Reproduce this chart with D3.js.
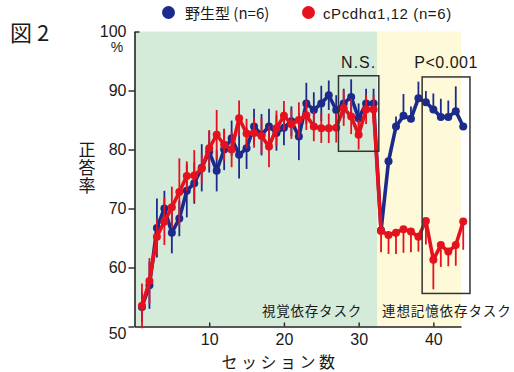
<!DOCTYPE html>
<html>
<head>
<meta charset="utf-8">
<script src="https://cdn.jsdelivr.net/npm/d3@7"></script>
<style>
  body { margin: 0; background: #fff; }
  text { font-family: "Liberation Sans", Arial, sans-serif; fill: #1a1a1a; }
  .jp { font-family: "Noto Sans CJK JP", sans-serif; }
</style>
</head>
<body>
<div id="chart"></div>
<script>
// Data
var sessions = [1,2,3,4,5,6,7,8,9,10,11,12,13,14,15,16,17,18,19,20,21,22,
                23,24,25,26,27,28,29,30,31,32,33,34,35,36,37,38,39,40,41,42,43,44];

var wildType = [53.3,57.0,66.7,70.0,65.9,68.3,73.0,74.3,76.9,79.6,
                76.4,80.0,81.9,79.1,80.2,83.9,82.5,83.9,82.8,83.7,
                84.8,82.2,87.8,86.7,87.8,89.2,86.7,87.8,88.9,85.3,87.8,87.8,
                66.3,78.0,83.9,85.7,85.2,88.7,88.0,86.8,85.5,85.5,86.5,83.9];
var wildTypeSem = [2.5,4,5,3,3.5,3,4.5,3.5,4,3.5,
                   3.5,3.5,3,4,3.5,3,3.5,3,3,3,
                   2.5,4,3.5,3,3,2.5,2.5,2.5,3,2.5,2.5,2.5,
                   0,0,1.7,3.7,2.1,2.8,1.9,2.7,3.1,2.8,4.2,0];

var mutant = [53.5,57.7,65.2,67.8,70.2,72.8,75.5,75.6,76.8,80.2,
              82.5,80.8,80.0,85.3,82.7,82.8,82.3,80.5,83.6,85.7,
              84.3,85.0,85.8,83.9,83.6,83.6,83.7,87.0,85.6,82.5,86.8,86.8,
              66.2,65.5,65.9,66.5,66.1,65.2,67.9,61.3,63.8,62.7,63.8,67.8];
var mutantSem = [3.8,3.9,3,4,3.5,5.7,2.5,4.3,2.5,3.1,
                 4.2,2.7,3,3,2.5,2.5,3,3.5,3,2.5,
                 2.5,3,2.5,2.5,2.5,2.5,2.5,3,3,2.5,2.5,2.5,
                 3.6,3.2,3.6,4,3.5,2.5,4,5,3.7,2.5,3.5,4.8];

var xTicks = [10, 20, 30, 40];
var yTicks = [50, 60, 70, 80, 90, 100];
var phaseSplit = 32.5;   // visual task -> associative task
var xEnd = 43.7;
var nsBox = [27.3, 32.7, 79.7, 92.5];      // x0, x1, y0, y1
var pBox = [38.5, 44.9, 55.6, 92.3];

var blue = "#1c2a8c", red = "#e5111e";

var svg = d3.select("#chart").append("svg")
    .attr("width", 514)
    .attr("height", 372);

var x = d3.scaleLinear().domain([0, xEnd]).range([134.5, 461]);
var y = d3.scaleLinear().domain([50, 100]).range([326.5, 31.5]);

// Background for the two task phases
svg.append("rect")
    .attr("x", x(0) + 1).attr("y", y(100))
    .attr("width", x(phaseSplit) - x(0) - 1).attr("height", y(50) - y(100))
    .attr("fill", "#d5ebd9");
svg.append("rect")
    .attr("x", x(phaseSplit)).attr("y", y(100))
    .attr("width", x(xEnd) - x(phaseSplit)).attr("height", y(50) - y(100))
    .attr("fill", "#fdf9d9");

// Axes
var yAxis = svg.append("g")
    .attr("transform", "translate(" + x(0) + ",0)")
    .call(d3.axisLeft(y).tickValues(yTicks).tickSize(6).tickSizeOuter(0).tickPadding(2));
var xAxis = svg.append("g")
    .attr("transform", "translate(0," + y(50) + ")")
    .call(d3.axisBottom(x).tickValues(xTicks).tickSize(-4).tickSizeOuter(0).tickPadding(7));

[yAxis, xAxis].forEach(function (g) {
    g.select(".domain").attr("stroke", "#222").attr("stroke-width", 1.6);
    g.selectAll(".tick line").attr("stroke", "#222").attr("stroke-width", 1.4);
    g.selectAll(".tick text").style("font-size", "16px").attr("fill", "#1a1a1a")
        .style("font-family", "'Liberation Sans', Arial, sans-serif");
});
// 100 tick points inward, 50 label sits under the corner
yAxis.selectAll(".tick").filter(function (d) { return d === 100; })
    .select("line").attr("x2", 5);
yAxis.selectAll(".tick").filter(function (d) { return d === 50; })
    .select("text").attr("dy", "0.75em");
xAxis.selectAll(".tick text").attr("dy", "0.71em");

svg.append("text")
    .attr("x", 117).attr("y", 52)
    .attr("text-anchor", "middle")
    .style("font-size", "14px")
    .text("%");

// Error bars (one-sided in the associative task)
function drawErrors(vals, sem, color, dir) {
    svg.append("g").selectAll("line")
        .data(sessions)
        .enter().append("line")
        .attr("x1", function (d) { return x(d); })
        .attr("x2", function (d) { return x(d); })
        .attr("y1", function (d, i) {
            var up = (i >= 32 && dir < 0) ? 0 : sem[i];
            return y(vals[i] + up);
        })
        .attr("y2", function (d, i) {
            var dn = (i >= 32 && dir > 0) ? 0 : sem[i];
            return y(vals[i] - dn);
        })
        .attr("stroke", color)
        .attr("stroke-width", 1.8);
}

function drawSeries(vals, color) {
    var line = d3.line()
        .x(function (d) { return x(d); })
        .y(function (d, i) { return y(vals[i]); });
    svg.append("path")
        .datum(sessions)
        .attr("d", line)
        .attr("fill", "none")
        .attr("stroke", color)
        .attr("stroke-width", 3.6)
        .attr("stroke-linejoin", "round");
    svg.append("g").selectAll("circle")
        .data(sessions)
        .enter().append("circle")
        .attr("cx", function (d) { return x(d); })
        .attr("cy", function (d, i) { return y(vals[i]); })
        .attr("r", 4)
        .attr("fill", color);
}

drawErrors(wildType, wildTypeSem, blue, 1);
drawSeries(wildType, blue);
drawErrors(mutant, mutantSem, red, -1);
drawSeries(mutant, red);

// Comparison boxes
[nsBox, pBox].forEach(function (b) {
    svg.append("rect")
        .attr("x", x(b[0])).attr("y", y(b[3]))
        .attr("width", x(b[1]) - x(b[0])).attr("height", y(b[2]) - y(b[3]))
        .attr("fill", "none")
        .attr("stroke", "#333")
        .attr("stroke-width", 1.5);
});
svg.append("text")
    .attr("x", x((nsBox[0] + nsBox[1]) / 2)).attr("y", 68)
    .attr("text-anchor", "middle")
    .style("font-size", "16px").style("letter-spacing", "1px")
    .text("N.S.");
svg.append("text")
    .attr("x", x((pBox[0] + pBox[1]) / 2)).attr("y", 68)
    .attr("text-anchor", "middle")
    .style("font-size", "16px").style("letter-spacing", "0.5px")
    .text("P<0.001");

// Phase labels
svg.append("text").attr("class", "jp")
    .attr("x", 362).attr("y", 316)
    .attr("text-anchor", "end")
    .style("font-size", "13.5px").style("letter-spacing", "0.8px")
    .text("視覚依存タスク");
svg.append("text").attr("class", "jp")
    .attr("x", 382).attr("y", 316)
    .style("font-size", "13.5px").style("letter-spacing", "0.9px")
    .text("連想記憶依存タスク");

// Axis titles
svg.append("text").attr("class", "jp")
    .attr("x", 280).attr("y", 368)
    .attr("text-anchor", "middle")
    .style("font-size", "16px").style("letter-spacing", "3.5px")
    .text("セッション数");
svg.append("text").attr("class", "jp")
    .attr("x", 87).attr("y", 141)
    .style("writing-mode", "vertical-rl")
    .style("font-size", "17px").style("letter-spacing", "1px")
    .text("正答率");

// Figure number
svg.append("text").attr("class", "jp")
    .attr("x", 10).attr("y", 41)
    .style("font-size", "22px")
    .text("図 2");

// Legend
var legend = svg.append("g");
legend.append("circle").attr("cx", 168.5).attr("cy", 12.5).attr("r", 6.5).attr("fill", blue);
legend.append("text").attr("class", "jp")
    .attr("x", 185).attr("y", 19)
    .style("font-size", "15px")
    .text("野生型 (n=6)");
legend.append("circle").attr("cx", 308.5).attr("cy", 12.5).attr("r", 6.5).attr("fill", red);
legend.append("text")
    .attr("x", 323).attr("y", 19)
    .style("font-size", "15px").style("letter-spacing", "0.6px")
    .text("cPcdhα1,12 (n=6)");
</script>
</body>
</html>
